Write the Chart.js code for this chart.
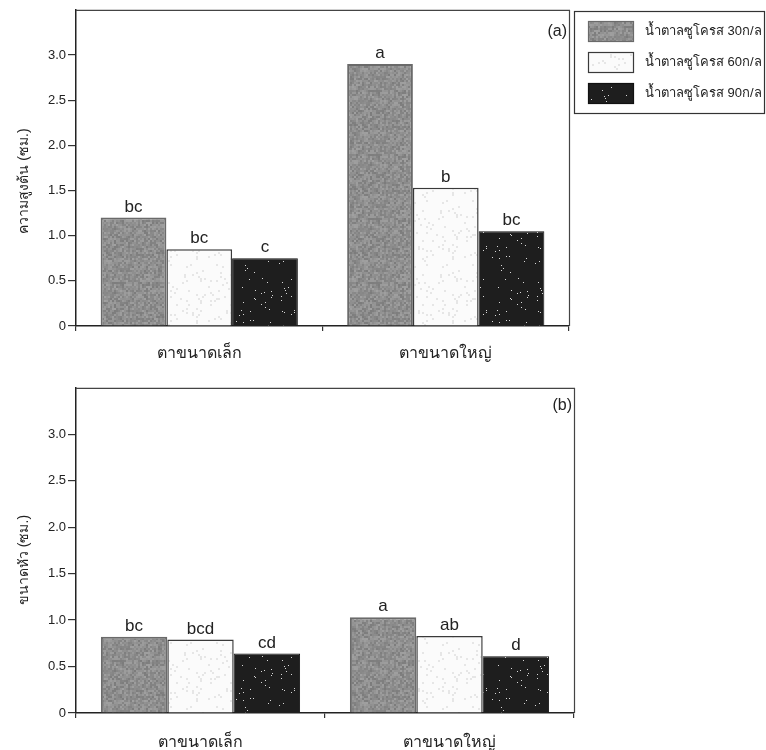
<!DOCTYPE html>
<html>
<head>
<meta charset="utf-8">
<script src="https://cdn.jsdelivr.net/npm/chart.js@4/dist/chart.umd.min.js"></script>
<style>
  html, body { margin: 0; padding: 0; background: #ffffff; }
  #wrap { position: relative; width: 766px; height: 750px; overflow: hidden; background: #ffffff; }
  #wrap canvas { position: absolute; left: 0; }
</style>
</head>
<body>
<div id="wrap">
  <canvas id="chartA" width="766" height="378" style="top:0px"></canvas>
  <canvas id="chartB" width="766" height="372" style="top:378px"></canvas>
</div>
<script>
// Bud size groups on the x axis
const categories = ['ตาขนาดเล็ก', 'ตาขนาดใหญ่'];
// Sucrose concentration treatments
const seriesNames = ['น้ำตาลซูโครส 30ก/ล', 'น้ำตาลซูโครส 60ก/ล', 'น้ำตาลซูโครส 90ก/ล'];

// (a) plant height, cm
const height30 = [1.20, 2.90];
const height60 = [0.85, 1.53];
const height90 = [0.75, 1.05];
const heightLetters30 = ['bc', 'a'];
const heightLetters60 = ['bc', 'b'];
const heightLetters90 = ['c', 'bc'];

// (b) head size, cm
const head30 = [0.82, 1.03];
const head60 = [0.79, 0.83];
const head90 = [0.64, 0.61];
const headLetters30 = ['bc', 'a'];
const headLetters60 = ['bcd', 'ab'];
const headLetters90 = ['cd', 'd'];

// Shared y ticks
const yTickValues = [0, 0.5, 1.0, 1.5, 2.0, 2.5, 3.0];
const yMax = 3.5;

const FONT = "'Liberation Sans', Arial, sans-serif";
const INK = '#222222';

// Small deterministic hash for fill textures
function hash(i, j, s) {
  let h = (i * 374761393 + j * 668265263 + s * 2147483647) | 0;
  h = (h ^ (h >>> 13)) * 1274126177;
  h = h ^ (h >>> 16);
  return ((h >>> 0) % 1000) / 1000;
}

function makeTexture(kind) {
  const size = 64;
  const c = document.createElement('canvas');
  c.width = size; c.height = size;
  const g = c.getContext('2d');
  if (kind === 'gray') {
    g.fillStyle = '#8e8e8e';
    g.fillRect(0, 0, size, size);
    for (let i = 0; i < size; i += 2) {
      for (let j = 0; j < size; j += 2) {
        const v = hash(i, j, 1);
        const shade = Math.round(124 + v * 36);
        g.fillStyle = `rgb(${shade},${shade},${shade})`;
        g.fillRect(i, j, 2, 2);
      }
    }
  } else if (kind === 'white') {
    g.fillStyle = '#fbfbfb';
    g.fillRect(0, 0, size, size);
    for (let i = 0; i < size; i += 2) {
      for (let j = 0; j < size; j += 2) {
        if (hash(i, j, 2) > 0.93) {
          g.fillStyle = '#e6e6e6';
          g.fillRect(i, j, 2, 2);
        }
      }
    }
  } else {
    g.fillStyle = '#1e1e1e';
    g.fillRect(0, 0, size, size);
    for (let i = 0; i < size; i += 1) {
      for (let j = 0; j < size; j += 1) {
        if (hash(i, j, 3) > 0.986) {
          g.fillStyle = '#d8d8d8';
          g.fillRect(i, j, 1, 1);
        }
      }
    }
  }
  return g.createPattern(c, 'repeat');
}

const fills = [makeTexture('gray'), makeTexture('white'), makeTexture('dark')];
const borders = ['#6a6a6a', '#3a3a3a', '#111111'];
const borderWidths = [2, 1.5, 1];

function makeDatasets(values, letters) {
  return values.map((v, k) => ({
    label: seriesNames[k],
    data: v,
    letters: letters[k],
    backgroundColor: fills[k],
    borderColor: borders[k],
    borderWidth: borderWidths[k],
    borderSkipped: 'bottom',
    categoryPercentage: 0.8,
    barPercentage: 1.0
  }));
}

// Frame: top and right edges of the plot box
const framePlugin = {
  id: 'frame',
  afterDraw(chart) {
    const { ctx, chartArea: a } = chart;
    ctx.save();
    ctx.strokeStyle = '#444';
    ctx.lineWidth = 1.2;
    ctx.beginPath();
    ctx.moveTo(a.left, a.top + 0.5);
    ctx.lineTo(a.right + 0.5, a.top + 0.5);
    ctx.lineTo(a.right + 0.5, a.bottom);
    ctx.stroke();
    ctx.restore();
  }
};

// Significance letters above each bar
const lettersPlugin = {
  id: 'letters',
  afterDatasetsDraw(chart) {
    const { ctx } = chart;
    ctx.save();
    ctx.font = '17px ' + FONT;
    ctx.fillStyle = INK;
    ctx.textAlign = 'center';
    ctx.textBaseline = 'alphabetic';
    chart.data.datasets.forEach((ds, di) => {
      chart.getDatasetMeta(di).data.forEach((bar, i) => {
        ctx.fillText(ds.letters[i], bar.x, bar.y - 6);
      });
    });
    ctx.restore();
  }
};

// Rotated y-axis title and panel tag
const annotPlugin = {
  id: 'annot',
  afterDraw(chart, args, opts) {
    const { ctx, chartArea: a } = chart;
    ctx.save();
    ctx.fillStyle = INK;
    ctx.font = '14px ' + FONT;
    ctx.translate(24, opts.titleY);
    ctx.rotate(-Math.PI / 2);
    ctx.textAlign = 'center';
    ctx.textBaseline = 'middle';
    ctx.fillText(opts.title, 0, 0);
    ctx.restore();

    ctx.save();
    ctx.fillStyle = INK;
    ctx.font = '16px ' + FONT;
    ctx.textAlign = 'right';
    ctx.textBaseline = 'middle';
    ctx.fillText(opts.tag, a.right - 2, a.top + opts.tagDy);
    ctx.restore();
  }
};

// Boxed legend to the right of panel (a)
const boxLegendPlugin = {
  id: 'boxLegend',
  afterDraw(chart, args, opts) {
    if (!opts.show) return;
    const { ctx } = chart;
    ctx.save();
    ctx.strokeStyle = '#333';
    ctx.lineWidth = 1.2;
    ctx.strokeRect(574.5, 11.5, 190, 102);
    chart.data.datasets.forEach((ds, k) => {
      const y = 21 + k * 31;
      ctx.fillStyle = ds.backgroundColor;
      ctx.fillRect(588, y, 46, 21);
      ctx.strokeStyle = ds.borderColor;
      ctx.lineWidth = 1.2;
      ctx.strokeRect(588.5, y + 0.5, 45, 20);
      ctx.fillStyle = INK;
      ctx.font = '13px ' + FONT;
      ctx.textAlign = 'left';
      ctx.textBaseline = 'middle';
      ctx.fillText(ds.label, 645, y + 10.5);
    });
    ctx.restore();
  }
};

function buildChart(id, values, letters, geom) {
  return new Chart(document.getElementById(id), {
    type: 'bar',
    data: { labels: categories, datasets: makeDatasets(values, letters) },
    plugins: [framePlugin, lettersPlugin, annotPlugin, boxLegendPlugin],
    options: {
      responsive: false,
      animation: false,
      layout: { padding: { top: geom.top, right: geom.right, left: 0, bottom: 0 } },
      plugins: {
        legend: { display: false },
        tooltip: { enabled: false },
        annot: { title: geom.title, titleY: geom.titleY, tag: geom.tag, tagDy: geom.tagDy },
        boxLegend: { show: geom.legend }
      },
      scales: {
        x: {
          type: 'category',
          offset: true,
          grid: { display: true, drawOnChartArea: false, offset: true, tickLength: 5, color: '#333', lineWidth: 1.2 },
          border: { display: true, color: '#222', width: 1.5 },
          ticks: { font: { family: FONT, size: 16 }, color: INK, padding: geom.xPad, maxRotation: 0 },
          afterFit(scale) { scale.height = geom.xHeight; }
        },
        y: {
          min: 0,
          max: yMax,
          afterBuildTicks(scale) { scale.ticks = yTickValues.map(v => ({ value: v })); },
          grid: { display: true, drawOnChartArea: false, tickLength: 8, color: '#333', lineWidth: 1.2 },
          border: { display: true, color: '#222', width: 1.5 },
          ticks: {
            font: { family: FONT, size: 13 },
            color: '#222',
            padding: 2,
            callback: v => (v === 0 ? '0' : Number(v).toFixed(1))
          },
          afterFit(scale) { scale.width = 76; }
        }
      }
    }
  });
}

buildChart('chartA', [height30, height60, height90], [heightLetters30, heightLetters60, heightLetters90], {
  top: 9, right: 197, xHeight: 52, xPad: 13,
  title: 'ความสูงต้น (ซม.)', titleY: 181, tag: '(a)', tagDy: 22, legend: true
});

buildChart('chartB', [head30, head60, head90], [headLetters30, headLetters60, headLetters90], {
  top: 9, right: 192, xHeight: 37, xPad: 15,
  title: 'ขนาดหัว (ซม.)', titleY: 182, tag: '(b)', tagDy: 18, legend: false
});
</script>
</body>
</html>
